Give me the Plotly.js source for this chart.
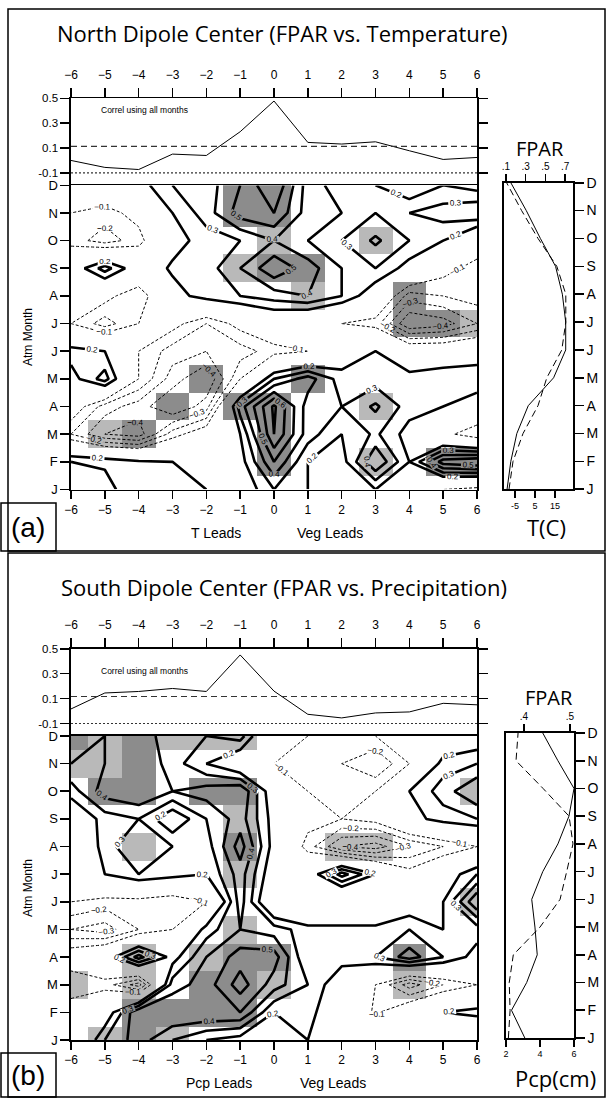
<!DOCTYPE html>
<html><head><meta charset="utf-8">
<script src="https://cdn.plot.ly/plotly-3.0.1.min.js"></script>
<style>html,body{margin:0;padding:0;background:#fff}#chart{width:606px;height:1098px}</style>
</head><body><div id="chart"></div>
<script>
// ---------------- data ----------------
const leads = [-6,-5,-4,-3,-2,-1,0,1,2,3,4,5,6];
const monthIdx = [0,1,2,3,4,5,6,7,8,9,10,11];
const monthLabels = ['J','F','M','A','M','J','J','A','S','O','N','D'];
const corrTicks = [0.5,0.3,0.1,-0.1];
const corrTickText = ['0.5','0.3','0.1','-0.1'];

// correlation using all months (top strips)
const corrNorth = [0.00,-0.056,-0.073,0.051,0.040,0.231,0.478,0.145,0.132,0.150,0.078,0.008,0.024];
const corrSouth = [0.017,0.145,0.157,0.181,0.157,0.450,0.160,-0.026,-0.055,-0.015,-0.007,0.062,0.050];
const sigUpperNorth = 0.113, sigLowerNorth = -0.10;
const sigUpperSouth = 0.117, sigLowerSouth = -0.10;

// seasonal cycles (Jan..Dec)
const fparNorth = [0.111,0.149,0.210,0.326,0.583,0.706,0.706,0.672,0.603,0.449,0.306,0.149];
const tempNorth = [-8.0,-6.0,-1.0,6.5,10.9,18.4,20.4,20.4,15.9,6.5,-1.7,-9.2];
const fparSouth = [0.402,0.373,0.406,0.429,0.424,0.417,0.441,0.474,0.498,0.509,0.474,0.441];
const pcpSouth  = [2.14,2.24,2.19,2.43,4.00,5.18,5.57,5.94,5.71,4.18,2.59,2.71];

// lagged correlation fields, rows Jan..Dec, columns lead -6..6
const corrGridNorth = [
 [0.40,0.35,0.20,0.25,0.20,0.10,0.30,0.20,0.10,0.20,0.00,-0.10,-0.15],
 [0.30,0.28,0.22,0.20,0.10,0.15,0.50,0.20,0.15,0.50,0.20,0.55,0.60],
 [-0.20,-0.40,-0.45,-0.15,0.00,0.20,0.70,0.35,0.20,0.32,0.15,-0.05,-0.20],
 [0.00,-0.25,-0.35,-0.50,-0.35,0.35,0.72,0.35,0.30,0.42,0.25,0.20,0.10],
 [0.15,0.35,-0.10,-0.35,-0.50,-0.10,0.30,0.45,0.25,0.25,0.25,0.30,0.30],
 [0.25,0.20,-0.10,-0.25,-0.30,-0.25,-0.15,-0.10,0.10,0.20,0.05,0.05,0.10],
 [-0.10,-0.25,-0.10,-0.05,-0.20,-0.05,0.05,0.00,-0.10,-0.15,-0.50,-0.45,-0.30],
 [-0.05,-0.05,-0.20,0.15,0.25,0.30,0.35,0.40,0.30,0.10,-0.25,-0.20,-0.15],
 [0.10,0.35,0.10,0.22,0.25,0.40,0.58,0.45,0.30,0.30,0.15,-0.05,-0.15],
 [-0.15,-0.25,-0.15,0.15,0.25,0.30,0.40,0.30,0.30,0.42,0.30,0.20,0.00],
 [-0.10,-0.15,-0.05,0.20,0.35,0.55,0.60,0.35,0.30,0.30,0.30,0.35,0.40],
 [0.00,0.05,0.15,0.30,0.35,0.50,0.70,0.35,0.25,0.20,0.10,0.20,0.15]
];
const corrGridSouth = [
 [-0.05,0.30,0.45,0.30,0.20,0.15,0.00,0.20,0.05,0.00,-0.10,-0.10,-0.10],
 [0.00,0.10,0.50,0.50,0.50,0.50,0.20,0.25,0.05,-0.12,0.05,0.20,0.25],
 [-0.20,-0.15,-0.35,0.35,0.45,0.65,0.45,0.30,0.10,-0.10,-0.35,-0.20,-0.10],
 [0.00,0.10,0.45,0.15,0.40,0.55,0.55,0.20,0.25,0.30,0.45,0.30,0.15],
 [-0.30,-0.35,-0.20,-0.10,0.25,0.40,0.35,0.25,0.25,0.25,0.30,0.20,0.25],
 [-0.10,-0.15,-0.15,-0.20,-0.10,0.45,0.00,-0.10,-0.10,-0.10,0.10,0.20,0.60],
 [0.00,0.20,0.30,0.25,0.20,0.45,0.10,0.10,0.45,0.20,-0.05,0.10,0.30],
 [0.00,0.25,0.40,0.30,0.25,0.55,0.15,-0.15,-0.40,-0.45,-0.30,-0.20,-0.10],
 [0.05,0.25,0.30,0.10,0.30,0.45,0.15,-0.05,-0.10,-0.05,0.15,0.25,0.30],
 [0.25,0.45,0.50,0.40,0.45,0.50,0.10,-0.10,-0.15,-0.10,0.20,0.35,0.50],
 [0.40,0.40,0.50,0.35,0.20,0.05,-0.10,-0.15,-0.20,-0.30,-0.10,0.25,0.30],
 [0.45,0.40,0.45,0.35,0.30,0.35,-0.05,-0.10,-0.15,-0.10,-0.05,0.05,0.10]
];
// significance (0 none, 1 light shading, 2 dark shading)
const sigGridNorth = [
 [0,0,0,0,0,0,0,0,0,0,0,0,0],
 [0,0,0,0,0,0,2,0,0,1,0,2,2],
 [0,1,2,0,0,0,2,0,0,0,0,0,0],
 [0,0,0,2,0,2,2,0,0,1,0,0,0],
 [0,0,0,0,2,0,0,2,0,0,0,0,0],
 [0,0,0,0,0,0,0,0,0,0,0,0,0],
 [0,0,0,0,0,0,0,0,0,0,2,2,1],
 [0,0,0,0,0,0,0,1,0,0,2,0,0],
 [0,0,0,0,0,1,2,2,0,0,0,0,0],
 [0,0,0,0,0,0,1,0,0,1,0,0,0],
 [0,0,0,0,0,2,2,0,0,0,0,0,0],
 [0,0,0,0,0,2,2,0,0,0,0,0,0]
];
const sigGridSouth = [
 [0,1,2,1,0,0,0,0,0,0,0,0,0],
 [0,0,2,2,2,2,0,0,0,0,0,0,0],
 [1,0,1,0,2,2,1,0,0,0,1,0,0],
 [0,0,1,0,1,2,2,0,0,0,2,0,0],
 [0,0,0,0,0,1,0,0,0,0,0,0,0],
 [0,0,0,0,0,0,0,0,0,0,0,0,1],
 [0,0,0,0,0,1,0,0,0,0,0,0,0],
 [0,0,1,0,0,2,0,0,1,1,0,0,0],
 [0,0,0,0,0,1,0,0,0,0,0,0,0],
 [0,2,2,0,2,2,0,0,0,0,0,0,1],
 [1,1,2,0,0,0,0,0,0,0,0,0,0],
 [2,1,2,1,1,1,0,0,0,0,0,0,0]
];

// ---------------- layout helpers ----------------
const W = 606, H = 1098;
const px = v => v / W;
const py = v => 1 - v / H;
const TF = 'Liberation Sans, Arial, sans-serif';
const HF = 'Open Sans, DejaVu Sans, sans-serif';

function baseAxis(extra) {
  return Object.assign({
    showline: true, linecolor: 'black', linewidth: 1.6,
    ticks: 'outside', ticklen: 9, tickwidth: 1.6, tickcolor: 'black',
    showgrid: false, zeroline: false, fixedrange: true,
    tickfont: {family: TF, size: 12, color: 'black'}
  }, extra);
}

function panelTraces(corr, grid, sig, seasA, seasB, sigUp, sigLo, ax) {
  const [xl, yl, xc, yc, xr1, xr2, yr] = ax;
  const tr = [];
  tr.push({type: 'scatter', mode: 'lines', x: leads, y: corr, xaxis: xl, yaxis: yl,
    line: {color: 'black', width: 1}, hoverinfo: 'skip'});
  tr.push({type: 'scatter', mode: 'lines', x: [leads[0], leads[leads.length-1]], y: [sigUp, sigUp],
    xaxis: xl, yaxis: yl, line: {color: '#333', width: 1.1, dash: '6px,4px'}, hoverinfo: 'skip'});
  tr.push({type: 'scatter', mode: 'lines', x: [leads[0], leads[leads.length-1]], y: [sigLo, sigLo],
    xaxis: xl, yaxis: yl, line: {color: '#333', width: 1.1, dash: '2px,2px'}, hoverinfo: 'skip'});
  tr.push({type: 'heatmap', x: leads, y: monthIdx, z: sig, xaxis: xc, yaxis: yc,
    zmin: 0, zmax: 2, showscale: false, hoverinfo: 'skip',
    colorscale: [[0,'rgba(255,255,255,0)'],[0.25,'rgba(255,255,255,0)'],[0.25,'#b9b9b9'],[0.75,'#b9b9b9'],[0.75,'#8c8c8c'],[1,'#8c8c8c']]});
  tr.push({type: 'contour', x: leads, y: monthIdx, z: grid, xaxis: xc, yaxis: yc,
    autocontour: false, showscale: false, hoverinfo: 'skip',
    contours: {coloring: 'none', start: -0.9, end: -0.1, size: 0.1, showlabels: true,
      labelfont: {family: TF, size: 8, color: 'black'}, labelformat: '.1f'},
    line: {color: 'black', width: 1, dash: '3px,2px', smoothing: 0}});
  tr.push({type: 'contour', x: leads, y: monthIdx, z: grid, xaxis: xc, yaxis: yc,
    autocontour: false, showscale: false, hoverinfo: 'skip',
    contours: {coloring: 'none', start: 0.2, end: 0.9, size: 0.1, showlabels: true,
      labelfont: {family: TF, size: 8, color: 'black'}, labelformat: '.1f'},
    line: {color: 'black', width: 2.6, smoothing: 0}});
  tr.push({type: 'scatter', mode: 'lines', x: seasA, y: monthIdx, xaxis: xr1, yaxis: yr,
    line: {color: 'black', width: 1}, hoverinfo: 'skip'});
  tr.push({type: 'scatter', mode: 'lines', x: seasB, y: monthIdx, xaxis: xr2, yaxis: yr,
    line: {color: 'black', width: 1, dash: '7px,4px'}, hoverinfo: 'skip'});
  return tr;
}

const data = [].concat(
  panelTraces(corrNorth, corrGridNorth, sigGridNorth, fparNorth, tempNorth, sigUpperNorth, sigLowerNorth,
    ['x','y','x2','y2','x3','x4','y3']),
  panelTraces(corrSouth, corrGridSouth, sigGridSouth, fparSouth, pcpSouth, sigUpperSouth, sigLowerSouth,
    ['x5','y5','x6','y6','x7','x8','y7'])
);

const XD = [px(71), px(477)];
const RXa = [px(504), px(573)];
const RXb = [px(506), px(574)];

function panelAxes(o, topY, midY, botY, rTop, rBot, RX, fparRange, fparTicks, fparText, clim) {
  const a = {};
  a['xaxis' + (o===0?'':(1+o))] = baseAxis({domain: XD, anchor: 'y' + (o===0?'':(1+o)), side: 'top',
    range: [-6, 6], tickvals: leads, mirror: false, ticklabelstandoff: 4});
  a['yaxis' + (o===0?'':(1+o))] = baseAxis({domain: [py(midY), py(topY)], anchor: 'x' + (o===0?'':(1+o)),
    range: [-0.2, 0.5], tickvals: corrTicks, ticktext: corrTickText, mirror: 'ticks',
    tickfont: {family: TF, size: 11.5, color: 'black'}});
  a['xaxis' + (2+o)] = baseAxis({domain: XD, anchor: 'y' + (2+o), side: 'bottom',
    range: [-6, 6], tickvals: leads, mirror: true, ticklen: 8});
  a['yaxis' + (2+o)] = baseAxis({domain: [py(botY), py(midY)], anchor: 'x' + (2+o),
    range: [0, 11], tickvals: monthIdx, ticktext: monthLabels, mirror: true,
    tickfont: {family: TF, size: 13, color: 'black'}});
  a['xaxis' + (3+o)] = baseAxis({domain: RX, anchor: 'y' + (3+o), side: 'top',
    range: fparRange, tickvals: fparTicks, ticktext: fparText, ticklen: 7,
    tickfont: {family: TF, size: 10, color: 'black'}, ticklabelstandoff: 0});
  a['xaxis' + (4+o)] = baseAxis({overlaying: 'x' + (3+o), anchor: 'y' + (3+o), side: 'bottom',
    range: clim.range, tickvals: clim.ticks, ticktext: clim.text, ticklen: 7,
    tickfont: {family: TF, size: 9, color: 'black'}});
  a['yaxis' + (3+o)] = baseAxis({domain: [py(rBot), py(rTop)], anchor: 'x' + (3+o), side: 'right',
    range: [0, 11], tickvals: monthIdx, ticktext: monthLabels, mirror: true,
    tickfont: {family: TF, size: 14, color: 'black'}});
  return a;
}

const layout = Object.assign({
  width: W, height: H, margin: {l: 0, r: 0, t: 0, b: 0},
  paper_bgcolor: 'white', plot_bgcolor: 'rgba(0,0,0,0)', showlegend: false,
  font: {family: TF, color: 'black'},
  shapes: [
    {type: 'rect', xref: 'paper', yref: 'paper', x0: px(8), x1: px(605), y0: py(551), y1: py(9), line: {color: 'black', width: 1.5}},
    {type: 'rect', xref: 'paper', yref: 'paper', x0: px(1), x1: px(56), y0: py(551), y1: py(503), line: {color: 'black', width: 1.5}},
    {type: 'rect', xref: 'paper', yref: 'paper', x0: px(8), x1: px(605), y0: py(1097), y1: py(553), line: {color: 'black', width: 1.5}},
    {type: 'rect', xref: 'paper', yref: 'paper', x0: px(1), x1: px(56), y0: py(1097), y1: py(1053), line: {color: 'black', width: 1.5}}
  ],
  annotations: [
    {text: 'North Dipole Center (FPAR vs. Temperature)', x: px(282), y: py(33), font: {family: HF, size: 22}},
    {text: 'South Dipole Center (FPAR vs. Precipitation)', x: px(284), y: py(587), font: {family: HF, size: 22}},
    {text: 'Correl using all months', x: px(99), y: py(110), xanchor: 'left', font: {family: TF, size: 8.5}},
    {text: 'Correl using all months', x: px(99), y: py(671), xanchor: 'left', font: {family: TF, size: 8.5}},
    {text: 'FPAR', x: px(540), y: py(148), font: {family: HF, size: 20}},
    {text: 'FPAR', x: px(549), y: py(697), font: {family: HF, size: 20}},
    {text: 'T(C)', x: px(546), y: py(527), font: {family: HF, size: 22}},
    {text: 'Pcp(cm)', x: px(555), y: py(1078), font: {family: HF, size: 22}},
    {text: 'T Leads', x: px(216), y: py(533), font: {family: TF, size: 14}},
    {text: 'Veg Leads', x: px(330), y: py(533), font: {family: TF, size: 14}},
    {text: 'Pcp Leads', x: px(219), y: py(1083), font: {family: TF, size: 14}},
    {text: 'Veg Leads', x: px(333), y: py(1083), font: {family: TF, size: 14}},
    {text: 'Atm Month', x: px(28), y: py(337), textangle: -90, font: {family: TF, size: 12}},
    {text: 'Atm Month', x: px(28), y: py(888), textangle: -90, font: {family: TF, size: 12}},
    {text: '(a)', x: px(28), y: py(527), font: {family: TF, size: 28}},
    {text: '(b)', x: px(28), y: py(1075), font: {family: TF, size: 28}}
  ].map(a => Object.assign({xref: 'paper', yref: 'paper', showarrow: false, xanchor: 'center', yanchor: 'middle'}, a))
},
  panelAxes(0, 98.3, 185.3, 489.5, 182.7, 489.3, RXa, [0.08, 0.78], [0.1,0.3,0.5,0.7], ['.1','.3','.5','.7'],
    {range: [-10.5, 24], ticks: [-5, 5, 15], text: ['-5','5','15']}),
  panelAxes(4, 648.7, 736, 1040, 733, 1038, RXb, [0.361, 0.509], [0.4, 0.5], ['.4','.5'],
    {range: [2, 6], ticks: [2, 4, 6], text: ['2','4','6']})
);

Plotly.newPlot('chart', data, layout, {staticPlot: true, displayModeBar: false});
</script>
</body></html>
